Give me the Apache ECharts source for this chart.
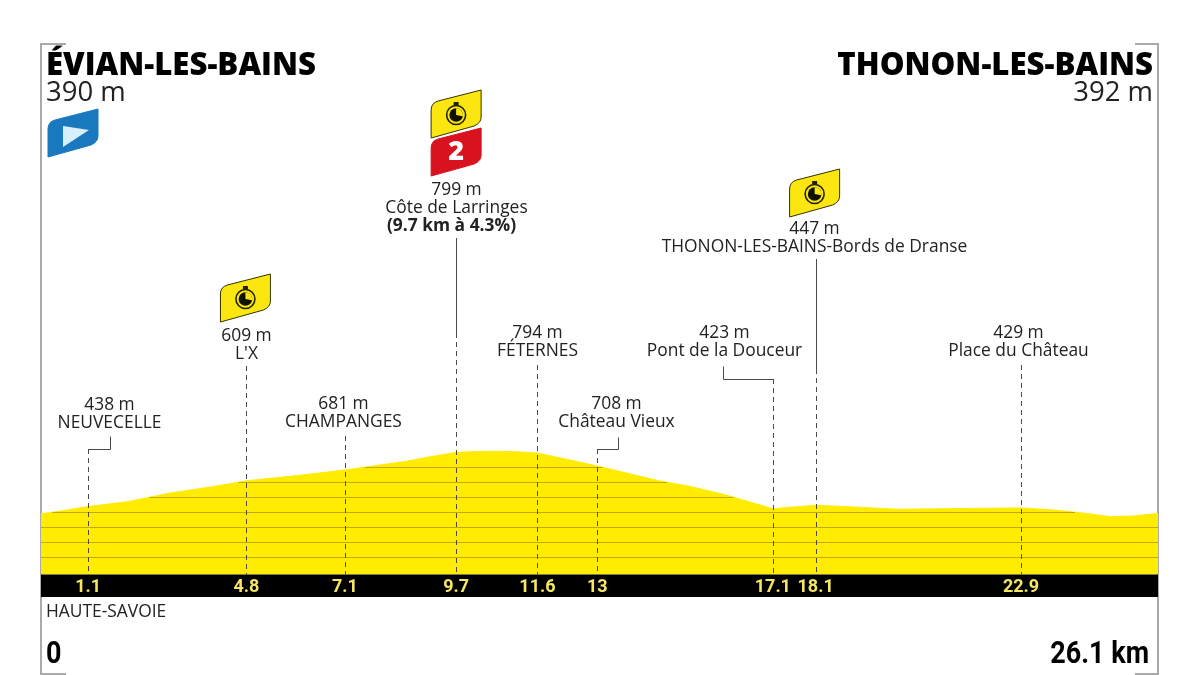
<!DOCTYPE html>
<html lang="fr">
<head>
<meta charset="utf-8">
<title>Évian-les-Bains – Thonon-les-Bains</title>
<script src="https://cdn.jsdelivr.net/npm/echarts@6/dist/echarts.min.js"></script>
<style>html,body{margin:0;padding:0;background:#fff}#chart{width:1200px;height:675px}</style>
</head>
<body>
<div id="chart"></div>
<script>
// Road profile: distance in km, altitude in m
const profileKm   = [0, 0.4, 1.1, 2, 3, 4, 4.8, 6, 7.1, 8, 8.5, 9, 9.7, 10.2, 10.7, 11.2, 11.6, 12.3, 13, 14.4, 15.2, 16, 16.6, 17.1, 18.1, 19.2, 20, 22.9, 23.6, 24.3, 25, 25.5, 26.1];
const profileElev = [390, 405, 438, 469, 527, 570, 609, 645, 681, 718, 738, 765, 799, 805, 806, 802, 794, 752, 708, 612, 570, 515, 465, 423, 447, 432, 420, 429, 416, 396, 370, 375, 392];

// Named points along the stage
const waypointKm   = [1.1, 4.8, 7.1, 9.7, 11.6, 13, 17.1, 18.1, 22.9];
const waypointElev = [438, 609, 681, 799, 794, 708, 423, 447, 429];
const waypointName = ['NEUVECELLE', "L'X", 'CHAMPANGES', 'Côte de Larringes', 'FÉTERNES', 'Château Vieux', 'Pont de la Douceur', 'THONON-LES-BAINS-Bords de Dranse', 'Place du Château'];

// Altitudes of the contour bands inside the profile
const contourLevels = [100, 200, 300, 400, 500, 600, 700];

const startTown = 'ÉVIAN-LES-BAINS', startElev = '390 m';
const finishTown = 'THONON-LES-BAINS', finishElev = '392 m';
const regionName = 'HAUTE-SAVOIE';
const distanceStart = '0', distanceEnd = '26.1 km';
const climbDetail = '(9.7 km à 4.3%)';

// Leader and label placement for each waypoint, in pixels
const waypointLayout = [
  {dx: 21,  y: 405, top: 449, elbow: [[22, 449], [22, 436]]},
  {dx: 0,   y: 336, top: 366},
  {dx: -2,  y: 404, top: 436},
  {dx: 0,   y: 190, top: 333, solidTop: 238},
  {dx: 0,   y: 333, top: 365},
  {dx: 19,  y: 404, top: 449, elbow: [[21, 449], [21, 437]]},
  {dx: -49, y: 333, top: 379, elbow: [[-50, 379], [-50, 366]]},
  {dx: -2,  y: 229, top: 369, solidTop: 259},
  {dx: -3,  y: 333, top: 365}
];

// Flag tabs: anchored on a kilometre, with a pixel offset
const tabPath = 'M0 48 L0 20 Q0 13 7 11 L50 0 L50 27 Q50 33 43 36 L0 48 Z';
const flags = [
  {km: 0,    dx: 7,   y: 109, kind: 'start'},
  {km: 4.8,  dx: -26, y: 274, kind: 'sprint'},
  {km: 9.7,  dx: -25, y: 90,  kind: 'sprint'},
  {km: 9.7,  dx: -25, y: 128, kind: 'climb', text: '2'},
  {km: 18.1, dx: -26, y: 169, kind: 'sprint'}
];

const BODY_FONT = '"Open Sans", sans-serif';
const NARROW_FONT = 'Roboto, sans-serif';
const LABEL_FONT = '17.4px ' + BODY_FONT;
const INK = '#222222', YELLOW = '#ffec00', SPRINT = '#fbe70f', LEADER = '#4a4a4a';
const BAND_TOP = 574.5, BAND_BOTTOM = 597;

// Stretch of road lying above a contour altitude
function contourSpan(level) {
  let from = null, to = null;
  for (let i = 0; i < profileKm.length - 1; i++) {
    const a = profileElev[i], b = profileElev[i + 1];
    const ka = profileKm[i], kb = profileKm[i + 1];
    if (a >= level && from === null) from = ka;
    if (a < level && b >= level && from === null) from = ka + (level - a) / (b - a) * (kb - ka);
    if (a >= level && b < level) to = ka + (level - a) / (b - a) * (kb - ka);
    if (a >= level && b >= level) to = kb;
  }
  return [from, to, level];
}

function renderContour(params, api) {
  const p1 = api.coord([api.value(0), api.value(2)]);
  const p2 = api.coord([api.value(1), api.value(2)]);
  const y = Math.round(p1[1]) + 0.5;
  return {type: 'line', shape: {x1: p1[0], y1: y, x2: p2[0], y2: y},
    style: {stroke: '#c4a900', lineWidth: 1.2}};
}

function renderBand(params, api) {
  const a = api.coord([api.value(0), 0]), b = api.coord([api.value(1), 0]);
  return {type: 'rect', shape: {x: a[0], y: BAND_TOP, width: b[0] - a[0], height: BAND_BOTTOM - BAND_TOP},
    style: {fill: '#000000'}};
}

function textEl(text, x, y, font, extra) {
  return {type: 'text', x: x, y: y,
    style: Object.assign({text: text, font: font, fill: INK, align: 'center', verticalAlign: 'middle'}, extra || {})};
}

function renderWaypoint(params, api) {
  const i = api.value(2);
  const layout = waypointLayout[i];
  const x = Math.round(api.coord([api.value(0), 0])[0]) + 0.5;
  const kids = [];
  const stroke = {stroke: LEADER, lineWidth: 1};
  kids.push({type: 'line', shape: {x1: x, y1: layout.top, x2: x, y2: BAND_TOP},
    style: Object.assign({lineDash: [5, 4]}, stroke)});
  if (layout.solidTop) {
    kids.push({type: 'line', shape: {x1: x, y1: layout.solidTop, x2: x, y2: layout.top}, style: stroke});
  }
  if (layout.elbow) {
    const pts = [[x, layout.top + 0.5]].concat(layout.elbow.map(p => [x + p[0], p[1] + 0.5]));
    kids.push({type: 'polyline', shape: {points: pts}, style: Object.assign({fill: 'none'}, stroke)});
  }
  const lx = x + layout.dx;
  kids.push(textEl(waypointElev[i] + ' m', lx, layout.y, LABEL_FONT));
  kids.push(textEl(waypointName[i], lx, layout.y + 18, LABEL_FONT));
  if (waypointName[i] === 'Côte de Larringes') {
    kids.push(textEl(climbDetail, lx - 5, layout.y + 36, 'bold 17.4px ' + BODY_FONT));
  }
  return {type: 'group', children: kids};
}

function renderFlag(params, api) {
  const f = flags[api.value(1)];
  const x = api.coord([api.value(0), 0])[0] + f.dx;
  const y = f.y;
  const fills = {start: '#1a78bf', sprint: SPRINT, climb: '#d8121f'};
  const kids = [{type: 'path', x: x, y: y,
    shape: {pathData: tabPath, x: 0, y: 0, width: 50, height: 48},
    style: {fill: fills[f.kind], stroke: f.kind === 'sprint' ? '#333300' : fills[f.kind], lineWidth: 1}}];
  if (f.kind === 'start') {
    kids.push({type: 'polygon', shape: {points: [[x + 15, y + 17], [x + 41, y + 21], [x + 15, y + 38]]},
      style: {fill: '#d8f0fb'}});
  }
  if (f.kind === 'sprint') {
    const cx = x + 25, cy = y + 25;
    kids.push({type: 'rect', shape: {x: cx - 2.5, y: cy - 13, width: 5, height: 3.5}, style: {fill: '#222200'}});
    kids.push({type: 'circle', shape: {cx: cx, cy: cy, r: 9.5}, style: {fill: SPRINT, stroke: '#222200', lineWidth: 1.6}});
    kids.push({type: 'circle', shape: {cx: cx, cy: cy, r: 6.8}, style: {fill: '#111100'}});
    kids.push({type: 'sector', shape: {cx: cx, cy: cy, r: 6.8, r0: 0, startAngle: -Math.PI / 2, endAngle: 0.2}, style: {fill: SPRINT}});
  }
  if (f.kind === 'climb') {
    kids.push(textEl(f.text, x + 25, y + 24, '800 27px ' + BODY_FONT, {fill: '#ffffff'}));
  }
  return {type: 'group', children: kids};
}

const frameColor = '#aaaaaa';
const frameLine = {stroke: frameColor, lineWidth: 2, fill: 'none'};
const chart = echarts.init(document.getElementById('chart'), null, {renderer: 'canvas'});

chart.setOption({
  animation: false,
  backgroundColor: '#ffffff',
  grid: {left: 41, right: 42, top: 400, height: 174.5},
  xAxis: {
    type: 'value', min: 0, max: 26.1, z: 5,
    axisLine: {show: false}, axisTick: {show: false}, splitLine: {show: false},
    axisLabel: {
      customValues: waypointKm, margin: 4, color: '#f5e663',
      fontFamily: NARROW_FONT, fontWeight: 'bold', fontSize: 18,
      formatter: v => String(v)
    }
  },
  yAxis: {type: 'value', min: -15, max: 1148, show: false, splitLine: {show: false}},
  series: [
    {type: 'line', data: profileKm.map((k, i) => [k, profileElev[i]]), symbol: 'none',
      lineStyle: {color: YELLOW, width: 1}, areaStyle: {color: YELLOW, opacity: 1, origin: 'start'}, z: 2, silent: true},
    {type: 'custom', data: contourLevels.map(contourSpan), renderItem: renderContour, z: 3, silent: true,
      encode: {x: [0, 1], y: 2}},
    {type: 'custom', data: [[0, 26.1]], renderItem: renderBand, z: 4, silent: true, encode: {x: [0, 1]}},
    {type: 'custom', data: waypointKm.map((k, i) => [k, waypointElev[i], i]), renderItem: renderWaypoint, z: 4, silent: true,
      encode: {x: 0, y: 1}},
    {type: 'custom', data: flags.map((f, i) => [f.km, i]), renderItem: renderFlag, z: 6, silent: true, encode: {x: 0}}
  ],
  graphic: [
    // Corner brackets round the drawing
    {type: 'polyline', shape: {points: [[66, 44], [41, 44], [41, 675]]}, style: frameLine, z: 1},
    {type: 'polyline', shape: {points: [[1135, 44], [1158, 44], [1158, 675]]}, style: frameLine, z: 1},
    {type: 'line', shape: {x1: 41, y1: 674, x2: 66, y2: 674}, style: frameLine, z: 1},
    {type: 'line', shape: {x1: 1135, y1: 674, x2: 1158, y2: 674}, style: frameLine, z: 1},
    // Start and finish headings
    {type: 'text', x: 46, y: 66, style: {text: startTown, font: '800 31.2px ' + BODY_FONT, fill: '#000000', verticalAlign: 'middle'}},
    {type: 'text', x: 46, y: 93, style: {text: startElev, font: '27.5px ' + BODY_FONT, fill: INK, verticalAlign: 'middle'}},
    {type: 'text', x: 1153, y: 66, style: {text: finishTown, font: '800 31.2px ' + BODY_FONT, fill: '#000000', align: 'right', verticalAlign: 'middle'}},
    {type: 'text', x: 1153, y: 93, style: {text: finishElev, font: '27.5px ' + BODY_FONT, fill: INK, align: 'right', verticalAlign: 'middle'}},
    // Foot of the profile
    {type: 'text', x: 46, y: 612, style: {text: regionName, font: LABEL_FONT, fill: INK, verticalAlign: 'middle'}},
    {type: 'text', x: 46, y: 655, scaleX: 0.87, style: {text: distanceStart, font: 'bold 31px ' + NARROW_FONT, fill: '#000000', verticalAlign: 'middle'}},
    {type: 'text', x: 1149, y: 655, scaleX: 0.87, style: {text: distanceEnd, font: 'bold 31px ' + NARROW_FONT, fill: '#000000', align: 'right', verticalAlign: 'middle'}}
  ]
});
</script>
</body>
</html>
